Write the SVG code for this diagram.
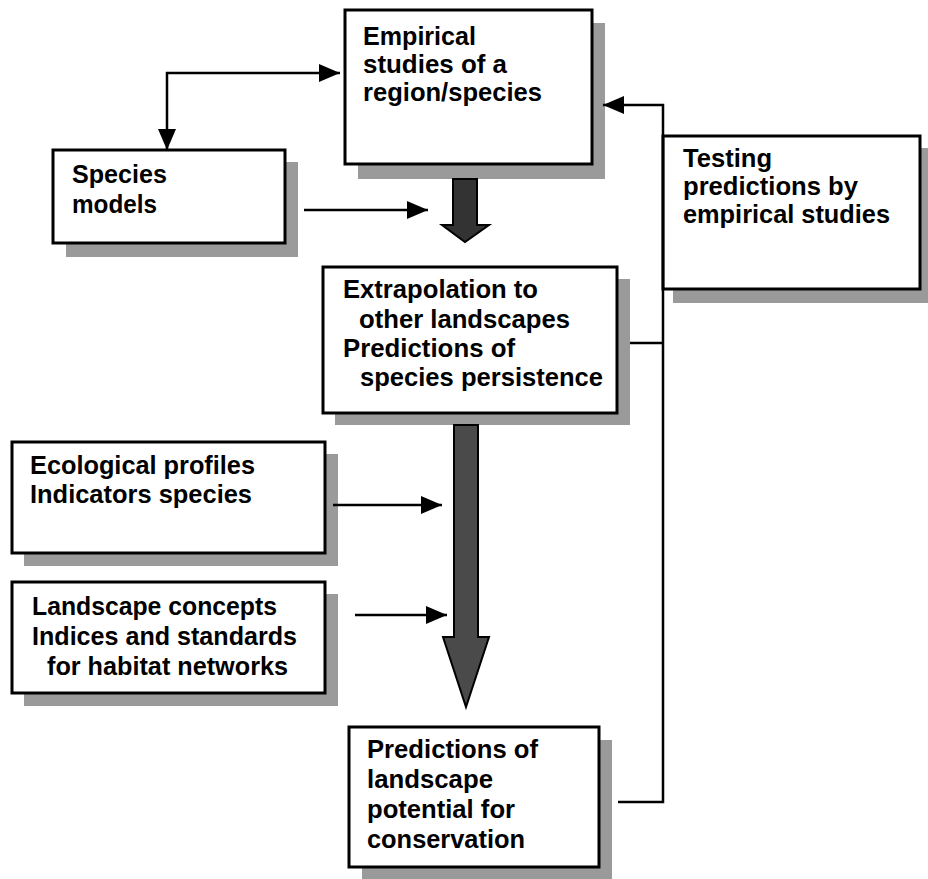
<svg xmlns="http://www.w3.org/2000/svg" width="928" height="879" viewBox="0 0 928 879">
<style>
.box{fill:#fff;stroke:#000;stroke-width:3}
.sh{fill:#9a9a9a}
.t{font-family:"Liberation Sans",Arial,sans-serif;font-weight:bold;font-size:25px;fill:#000}
.ln{fill:none;stroke:#000;stroke-width:2.5}
.big{fill:#4a4a4a;stroke:#000;stroke-width:2}
</style>
<defs>
<marker id="ah" markerUnits="userSpaceOnUse" markerWidth="22" markerHeight="20" refX="21" refY="10" orient="auto-start-reverse">
<path d="M0,1 L21,10 L0,19 Z" fill="#000"/>
</marker>
</defs>
<rect width="928" height="879" fill="#fff"/>

<g id="empirical">
<rect class="sh" x="358" y="23" width="247" height="156"/>
<rect class="box" x="345" y="10" width="247" height="154"/>
<text class="t" x="363" y="45" textLength="113" lengthAdjust="spacingAndGlyphs">Empirical</text>
<text class="t" x="363" y="73" textLength="144" lengthAdjust="spacingAndGlyphs">studies of a</text>
<text class="t" x="363" y="101" textLength="179" lengthAdjust="spacingAndGlyphs">region/species</text>
</g>

<g id="species-models">
<rect class="sh" x="66" y="162" width="232" height="95"/>
<rect class="box" x="53" y="150" width="232" height="93"/>
<text class="t" x="72" y="183" textLength="95" lengthAdjust="spacingAndGlyphs">Species</text>
<text class="t" x="72" y="213" textLength="85" lengthAdjust="spacingAndGlyphs">models</text>
</g>

<g id="testing">
<rect class="sh" x="673" y="148" width="260" height="155"/>
<rect class="box" x="663" y="136" width="257" height="153"/>
<text class="t" x="683" y="167" textLength="89" lengthAdjust="spacingAndGlyphs">Testing</text>
<text class="t" x="683" y="195" textLength="175" lengthAdjust="spacingAndGlyphs">predictions by</text>
<text class="t" x="683" y="223" textLength="207" lengthAdjust="spacingAndGlyphs">empirical studies</text>
</g>

<g id="extrapolation">
<rect class="sh" x="335" y="279" width="295" height="146"/>
<rect class="box" x="323" y="267" width="294" height="146"/>
<text class="t" x="343" y="298" textLength="195" lengthAdjust="spacingAndGlyphs">Extrapolation to</text>
<text class="t" x="359" y="328" textLength="211" lengthAdjust="spacingAndGlyphs">other landscapes</text>
<text class="t" x="343" y="357" textLength="172" lengthAdjust="spacingAndGlyphs">Predictions of</text>
<text class="t" x="360" y="386" textLength="243" lengthAdjust="spacingAndGlyphs">species persistence</text>
</g>

<g id="ecological">
<rect class="sh" x="24" y="454" width="314" height="112"/>
<rect class="box" x="12" y="442" width="313" height="111"/>
<text class="t" x="30" y="474" textLength="225" lengthAdjust="spacingAndGlyphs">Ecological profiles</text>
<text class="t" x="30" y="503" textLength="222" lengthAdjust="spacingAndGlyphs">Indicators species</text>
</g>

<g id="landscape">
<rect class="sh" x="24" y="594" width="314" height="112"/>
<rect class="box" x="12" y="582" width="313" height="111"/>
<text class="t" x="32" y="615" textLength="245" lengthAdjust="spacingAndGlyphs">Landscape concepts</text>
<text class="t" x="32" y="645" textLength="265" lengthAdjust="spacingAndGlyphs">Indices and standards</text>
<text class="t" x="47" y="675" textLength="241" lengthAdjust="spacingAndGlyphs">for habitat networks</text>
</g>

<g id="predictions">
<rect class="sh" x="362" y="740" width="250" height="140"/>
<rect class="box" x="349" y="727" width="250" height="140"/>
<text class="t" x="367" y="758" textLength="171" lengthAdjust="spacingAndGlyphs">Predictions of</text>
<text class="t" x="367" y="788" textLength="126" lengthAdjust="spacingAndGlyphs">landscape</text>
<text class="t" x="367" y="818" textLength="148" lengthAdjust="spacingAndGlyphs">potential for</text>
<text class="t" x="367" y="848" textLength="158" lengthAdjust="spacingAndGlyphs">conservation</text>
</g>

<g id="connectors">
<path class="ln" d="M167,150 L167,73 L340,73" marker-start="url(#ah)" marker-end="url(#ah)"/>
<path class="ln" d="M304,210 L428,210" marker-end="url(#ah)"/>
<path class="ln" d="M333,505 L442,505" marker-end="url(#ah)"/>
<path class="ln" d="M355,615 L447,615" marker-end="url(#ah)"/>
<path class="ln" d="M618,802 L663,802 L663,105 L603,105" marker-end="url(#ah)"/>
<path class="ln" d="M630,343 L663,343"/>
<path class="big" style="fill:#333" d="M453,179 L477,179 L477,225 L489,225 L465,242 L442,225 L453,225 Z"/>
<path class="big" d="M454,425 L478,425 L478,637 L489,637 L466,707 L443,637 L454,637 Z"/>
</g>
</svg>
